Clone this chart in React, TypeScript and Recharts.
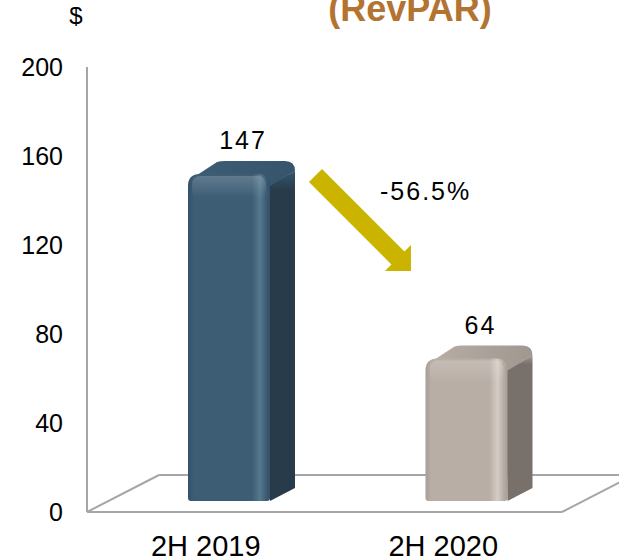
import React from "react";
import * as R from "recharts";
import { BarChart, Bar, XAxis, YAxis, LabelList, Customized } from "recharts";

// Values
const CATEGORIES = ["2H 2019", "2H 2020"];
const REVPAR = [147, 64];
const Y_TICKS = [0, 40, 80, 120, 160, 200];
const CHANGE_LABEL = "-56.5%";
const TITLE = "(RevPAR)";
const UNIT = "$";

const data = CATEGORIES.map((name, i) => ({ name, value: REVPAR[i] }));

const W = 619;
const H = 558;
const MARGIN = { top: 67, right: 57, bottom: 0, left: 27 };
const Y_AXIS_W = 60;
const X_AXIS_H = 46;
const FONT = "'Liberation Sans', Arial, sans-serif";

// fake 3D: front face sits inside the floor, bars have a little depth
const OX = 23;
const OY = -11;
const DX = 25;
const DY = -13;
const FLOOR_DX = 72;
const FLOOR_DY = -37;

const BAR_COLORS = [
  { front: "#3d5d75", dark: "#33506a", light: "#56798f", side: "#283b4a", top: "#36556c" },
  { front: "#b8aea6", dark: "#a69d96", light: "#d4ccc5", side: "#78716b", top: "#a0978f" },
];

const usePlotAreaSafe: () => any = (R as any).usePlotArea || (() => undefined);

function usePlot() {
  const pa = usePlotAreaSafe();
  const left = pa ? pa.x : MARGIN.left + Y_AXIS_W;
  const top = pa ? pa.y : MARGIN.top;
  const right = pa ? pa.x + pa.width : W - MARGIN.right;
  const bottom = pa ? pa.y + pa.height : H - MARGIN.bottom - X_AXIS_H;
  return { left, top, right, bottom };
}

function Floor() {
  const { left, right, bottom } = usePlot();
  const stroke = "#a6a6a6";
  return (
    <g>
      <line x1={left} y1={bottom} x2={left + FLOOR_DX} y2={bottom + FLOOR_DY} stroke={stroke} strokeWidth={2} />
      <line x1={left + FLOOR_DX} y1={bottom + FLOOR_DY} x2={W + 20} y2={bottom + FLOOR_DY} stroke={stroke} strokeWidth={2} />
      <line x1={right} y1={bottom} x2={right + FLOOR_DX} y2={bottom + FLOOR_DY} stroke={stroke} strokeWidth={2} />
    </g>
  );
}

function Annotations() {
  const { left, top } = usePlot();
  // arrow from 2019 bar down to 2020 bar
  const sx = left + 228.5;
  const sy = top + 108.5;
  const L = 135;
  const sw = 9.2;
  const hw = 18.4;
  const hl = 18.4;
  const u = Math.SQRT1_2;
  const P = (t: number, s: number) => `${sx + t * u + s * u},${sy + t * u - s * u}`;
  const pts = [P(0, sw), P(L - hl, sw), P(L - hl, hw), P(L, 0), P(L - hl, -hw), P(L - hl, -sw), P(0, -sw)].join(" ");
  return (
    <g fontFamily={FONT}>
      <polygon points={pts} fill="#cbb400" />
      <text x={left + 293} y={top + 133} fontSize={25} letterSpacing={2} fill="#000">
        {CHANGE_LABEL}
      </text>
      <text x={76} y={24} fontSize={24} textAnchor="middle" fill="#000">
        {UNIT}
      </text>
      {/* title is cut by the top edge in the source */}
      <text x={410} y={21} fontSize={36} fontWeight="bold" textAnchor="middle" fill="#b27430">
        {TITLE}
      </text>
    </g>
  );
}

function Bar3D(props: any) {
  const { x, y, width, height, index } = props;
  if (height == null || width == null) return null;
  const c = BAR_COLORS[index % BAR_COLORS.length];
  const fx = x + OX;
  const fy = y + OY;
  const w = width;
  const h = height;
  const r = 12;
  const gid = `front-${index}`;
  const tid = `top-${index}`;
  const sid = `side-${index}`;

  const side = `M${fx + w - 2},${fy + r} L${fx + w + DX},${fy + DY + 10} L${fx + w + DX},${fy + h + DY} L${fx + w},${fy + h} Z`;
  const topFace = `M${fx + 3},${fy + 5} L${fx + DX + 4},${fy + DY + 1} Q${fx + DX + 7},${fy + DY} ${fx + DX + 12},${fy + DY}
    L${fx + w + DX - 10},${fy + DY} Q${fx + w + DX},${fy + DY} ${fx + w + DX},${fy + DY + 10} L${fx + w},${fy + r} Z`;
  const front = `M${fx},${fy + h - 3} L${fx},${fy + r} Q${fx},${fy} ${fx + r},${fy} L${fx + w - r},${fy}
    Q${fx + w},${fy} ${fx + w},${fy + r} L${fx + w},${fy + h - 3} Q${fx + w},${fy + h} ${fx + w - 3},${fy + h}
    L${fx + 3},${fy + h} Q${fx},${fy + h} ${fx},${fy + h - 3} Z`;

  return (
    <g>
      <defs>
        <linearGradient id={gid} x1="0" y1="0" x2="1" y2="0">
          <stop offset="0%" stopColor={c.dark} />
          <stop offset="7%" stopColor={c.front} />
          <stop offset="78%" stopColor={c.front} />
          <stop offset="88%" stopColor={c.light} />
          <stop offset="95%" stopColor={c.front} />
          <stop offset="100%" stopColor={c.dark} />
        </linearGradient>
        <linearGradient id={tid} x1="0" y1="0" x2="1" y2="0">
          <stop offset="0%" stopColor={c.front} />
          <stop offset="100%" stopColor={c.top} />
        </linearGradient>
        <linearGradient id={sid} x1="0" y1="0" x2="0" y2="1">
          <stop offset="0%" stopColor={c.top} />
          <stop offset="6%" stopColor={c.side} />
          <stop offset="100%" stopColor={c.side} />
        </linearGradient>
        <linearGradient id={`${gid}-hl`} x1="0" y1="0" x2="0" y2="1">
          <stop offset="0%" stopColor="#ffffff" stopOpacity={0.18} />
          <stop offset="100%" stopColor="#ffffff" stopOpacity={0} />
        </linearGradient>
      </defs>
      <path d={side} fill={`url(#${sid})`} />
      <path d={topFace} fill={`url(#${tid})`} />
      <path d={front} fill={`url(#${gid})`} />
      <rect x={fx + 4} y={fy + 2} width={w - 8} height={22} rx={8} fill={`url(#${gid}-hl)`} />
    </g>
  );
}

function ValueLabel(props: any) {
  const { x, y, width, value } = props;
  if (x == null || y == null) return null;
  return (
    <text
      x={x + width / 2 + OX + 14}
      y={y + OY - 25}
      textAnchor="middle"
      fontSize={25}
      letterSpacing={2}
      fontFamily={FONT}
      fill="#000"
    >
      {value}
    </text>
  );
}

export default function App() {
  return (
    <div style={{ position: "absolute", left: 0, top: 0, width: W, height: H, background: "#fff" }}>
      <BarChart width={W} height={H} data={data} margin={MARGIN} barSize={82}>
        <Customized component={<Floor />} />
        <XAxis
          dataKey="name"
          height={X_AXIS_H}
          axisLine={{ stroke: "#a6a6a6", strokeWidth: 2 }}
          tickLine={false}
          tickSize={0}
          tickMargin={23}
          tick={{ fontSize: 29, fill: "#000", fontFamily: FONT }}
          interval={0}
        />
        <YAxis
          width={Y_AXIS_W}
          domain={[0, 200]}
          ticks={Y_TICKS}
          axisLine={{ stroke: "#a6a6a6", strokeWidth: 2 }}
          tickLine={false}
          tickSize={0}
          tickMargin={24}
          tick={{ fontSize: 25, fill: "#000", fontFamily: FONT }}
          interval={0}
        />
        <Bar dataKey="value" shape={<Bar3D />} isAnimationActive={false}>
          <LabelList dataKey="value" content={<ValueLabel />} />
        </Bar>
        <Customized component={<Annotations />} />
      </BarChart>
    </div>
  );
}
